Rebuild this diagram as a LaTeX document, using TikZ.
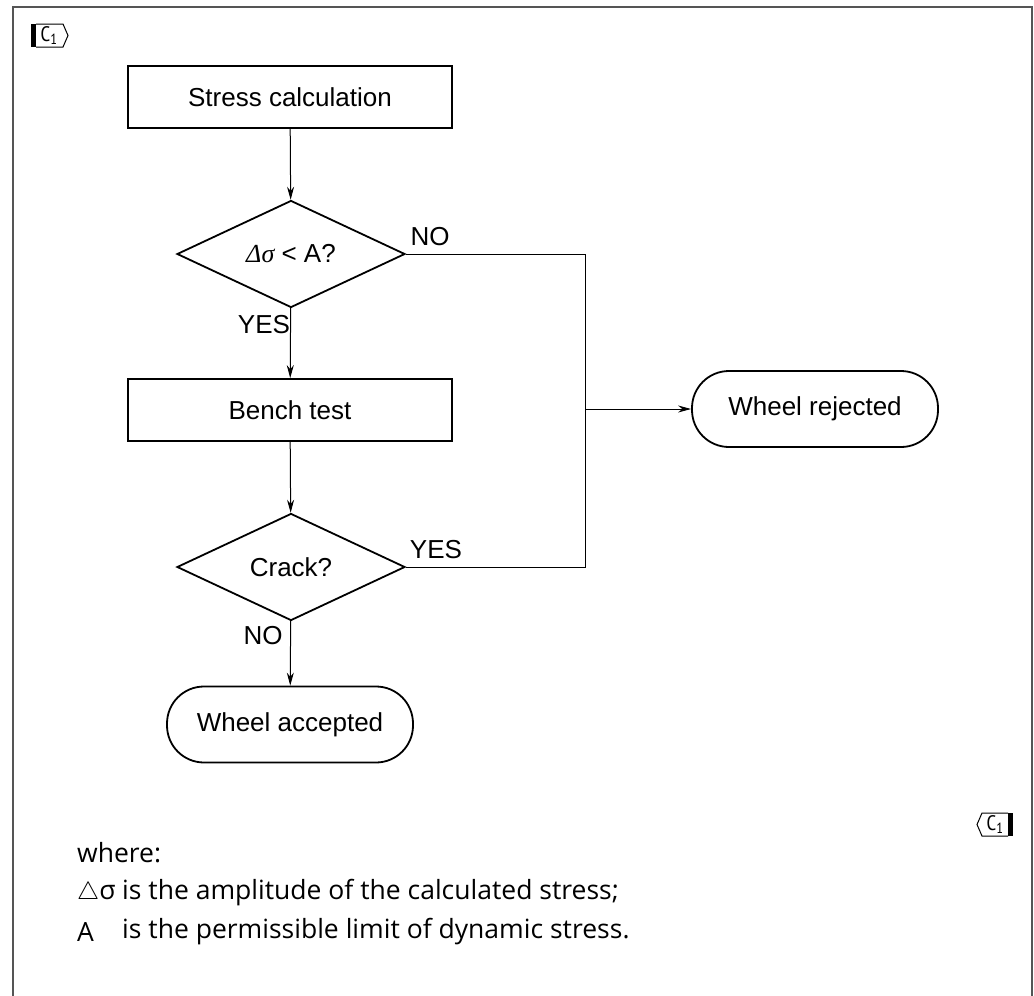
\documentclass[tikz,border=0pt]{standalone}
\usepackage{fontspec}
\setmainfont{Liberation Sans}
\newfontfamily\legendfont{Open Sans}
\newfontfamily\markfont{PT Sans Narrow}
\newfontfamily\serifit{Liberation Serif}
\usetikzlibrary{shapes.geometric,arrows.meta}
\definecolor{framegray}{HTML}{555555}
\begin{document}
\begin{tikzpicture}[x=1pt,y=-1pt,
  box/.style={draw,line width=1.8pt,minimum width=324pt,minimum height=62pt,inner sep=0pt,font=\fontsize{26}{28}\selectfont},
  decision/.style={draw,line width=1.8pt,diamond,aspect=2.13,minimum width=228pt,minimum height=107pt,inner sep=0pt,font=\fontsize{26}{28}\selectfont},
  term/.style={draw,line width=1.8pt,rounded corners=37pt,minimum width=246pt,minimum height=76pt,inner sep=0pt,font=\fontsize{26}{28}\selectfont},
  conn/.style={line width=1pt},
  arr/.style={conn,-{Stealth[length=13pt,width=7pt]}},
  lab/.style={font=\fontsize{26}{28}\selectfont,inner sep=0pt},
  leg/.style={font=\legendfont\fontsize{26.5}{30}\selectfont,inner sep=0pt,anchor=west},
  frame/.style={draw=framegray,line width=2pt},
  marktext/.style={inner sep=0pt,font=\markfont\fontsize{21}{22}\selectfont}
]
\useasboundingbox (0,0) rectangle (1034,996);
% frame
\draw[frame] (13,996) -- (13,7) -- (1032,7) -- (1032,996);

% change markers
\fill (31,24) rectangle (36,47);
\draw[line width=1pt] (36,24) -- (63,24) -- (68,35.5) -- (63,47) -- (36,47);
\node[marktext] (m1) at (49,35.5) {C\textsubscript{1}};
\fill (1008,813) rectangle (1013,836);
\draw[line width=1pt] (1008,813) -- (982,813) -- (977,824.5) -- (982,836) -- (1008,836);
\node[marktext] (m2) at (995,824.5) {C\textsubscript{1}};

% nodes
\node[box] (stress) at (290,97) {Stress calculation};
\node[decision] (d1) at (291,254) {{\serifit\itshape Δσ} < A?};
\node[box] (bench) at (290,410) {Bench test};
\node[decision] (d2) at (291,567) {Crack?};
\node[term] (acc) at (290,724.5) {Wheel accepted};
\node[term] (rej) at (815,409) {Wheel rejected};

% connectors
\draw[arr] (stress) -- (d1);
\draw[arr] (d1) -- (bench);
\draw[arr] (bench) -- (d2);
\draw[arr] (d2) -- (acc);
\coordinate (j1) at (585,254);
\coordinate (j2) at (585,409);
\draw[conn] (d1.east) -- (j1) -- (j1 |- d2.east) -- (d2.east);
\draw[arr] (j2) -- (rej.west);

% labels
\node[lab] (no1) at (430,237) {NO};
\node[lab] (yes1) at (264,325) {YES};
\node[lab] (yes2) at (436,550) {YES};
\node[lab] (no2) at (263,636) {NO};

% legend
\node[leg] (w) at (77,853) {where:};
\node[leg] (ds) at (77,893) {{\fontsize{23}{24}\selectfont$\triangle$}σ};
\node[leg] (dstext) at (122,893) {is the amplitude of the calculated stress;};
\node[leg] (a) at (77,932) {A};
\node[leg] (atext) at (122,932) {is the permissible limit of dynamic stress.};
\end{tikzpicture}
\end{document}
